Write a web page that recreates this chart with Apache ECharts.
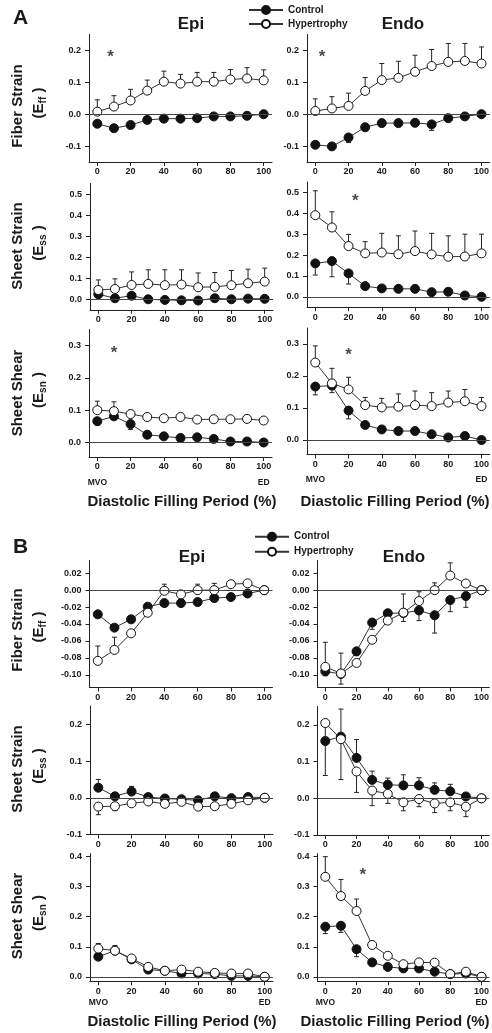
<!DOCTYPE html>
<html><head><meta charset="utf-8">
<script src="https://cdn.jsdelivr.net/npm/echarts@6/dist/echarts.min.js"></script>
<style>html,body{margin:0;padding:0;background:#fff}#c{width:492px;height:1033px}</style>
</head><body><div id="c"></div>
<script>
// ---------- DATA ----------
const xValues = [0,10,20,30,40,50,60,70,80,90,100];
const xTickValues = [0,20,40,60,80,100];
const seriesNames = ['Control','Hypertrophy'];

// Panel A - Fiber strain (Eff)
const aEpiFfCtrl = [-0.030,-0.044,-0.034,-0.018,-0.014,-0.014,-0.0125,-0.007,-0.007,-0.005,0.0];
const aEpiFfCtrlErr = [0,0,0,0,0,0,0,0,0,0,0];
const aEpiFfHyp = [0.008,0.024,0.043,0.074,0.102,0.096,0.102,0.102,0.109,0.112,0.106];
const aEpiFfHypErr = [0.037,0.034,0.035,0.033,0.033,0.029,0.029,0.029,0.031,0.034,0.033];
const aEndoFfCtrl = [-0.096,-0.101,-0.073,-0.041,-0.028,-0.028,-0.027,-0.032,-0.0125,-0.007,0.0];
const aEndoFfCtrlErr = [0,0,0.016,0,0,0,0,0.019,0,0,0];
const aEndoFfHyp = [0.010,0.018,0.026,0.073,0.107,0.114,0.133,0.151,0.164,0.167,0.159];
const aEndoFfHypErr = [0.038,0.037,0.040,0.042,0.052,0.052,0.052,0.052,0.058,0.055,0.052];
// Panel A - Sheet strain (Ess)
const aEpiSsCtrl = [0.024,0.005,0.017,0.0,-0.003,-0.005,-0.006,0.005,0.0,0.003,0.002];
const aEpiSsCtrlErr = [0,0,0,0,0,0,0,0,0,0,0];
const aEpiSsHyp = [0.044,0.049,0.068,0.073,0.067,0.070,0.057,0.059,0.067,0.076,0.084];
const aEpiSsHypErr = [0.048,0.048,0.062,0.067,0.073,0.070,0.068,0.068,0.070,0.067,0.064];
const aEndoSsCtrl = [0.160,0.171,0.112,0.051,0.040,0.038,0.038,0.022,0.024,0.006,0.0];
const aEndoSsCtrlErr = [0.056,0.075,0.051,0,0,0.014,0,0,0,0,0];
const aEndoSsHyp = [0.391,0.332,0.243,0.208,0.212,0.204,0.219,0.203,0.192,0.193,0.208];
const aEndoSsHypErr = [0.117,0.075,0.056,0.056,0.092,0.088,0.096,0.101,0.100,0.107,0.092];
// Panel A - Sheet shear (Esn)
const aEpiSnCtrl = [0.066,0.081,0.057,0.024,0.019,0.014,0.016,0.011,0.003,0.003,0.0];
const aEpiSnCtrlErr = [0.012,0,0.017,0,0,0,0,0,0,0,0];
const aEpiSnHyp = [0.100,0.097,0.088,0.079,0.075,0.079,0.071,0.072,0.072,0.073,0.068];
const aEpiSnHypErr = [0.028,0.029,0.012,0,0,0,0,0,0,0,0];
const aEndoSnCtrl = [0.167,0.170,0.092,0.047,0.033,0.028,0.028,0.018,0.008,0.0125,0.0];
const aEndoSnCtrlErr = [0.026,0.022,0.026,0,0,0,0,0,0,0,0];
const aEndoSnHyp = [0.242,0.177,0.158,0.109,0.102,0.104,0.109,0.106,0.117,0.121,0.106];
const aEndoSnHypErr = [0.052,0.047,0.038,0.024,0.028,0.040,0.044,0.042,0.036,0.037,0.027];

// Panel B - Fiber strain (Eff)
const bEpiFfCtrl = [-0.0286,-0.0443,-0.0345,-0.0196,-0.0153,-0.0153,-0.0141,-0.0094,-0.0082,-0.004,0.0];
const bEpiFfCtrlErr = [0,0,0,0,0,0,0,0,0,0,0];
const bEpiFfHyp = [-0.0835,-0.0706,-0.051,-0.0267,-0.0008,-0.005,0.0,0.0,0.007,0.008,0.0];
const bEpiFfHypErr = [0.0175,0.015,0,0,0.0078,0,0.007,0.008,0,0,0];
const bEndoFfCtrl = [-0.096,-0.099,-0.0723,-0.0383,-0.0273,-0.027,-0.024,-0.0297,-0.0117,-0.007,0.0];
const bEndoFfCtrlErr = [0.005,0.012,0.005,0.008,0,0.010,0.012,0.021,0.0137,0.0133,0];
const bEndoFfHyp = [-0.0906,-0.0984,-0.086,-0.0586,-0.036,-0.0266,-0.0129,0.0,0.0172,0.0078,0.0];
const bEndoFfHypErr = [0.029,0.024,0,0,0,0.022,0.011,0.0086,0.015,0,0];
// Panel B - Sheet strain (Ess)
const bEpiSsCtrl = [0.0275,0.004,0.017,0.002,-0.002,-0.004,-0.007,0.004,-0.001,0.002,0.0];
const bEpiSsCtrlErr = [0.0225,0,0.014,0,0,0,0,0,0,0,0];
const bEpiSsHyp = [-0.024,-0.023,-0.015,-0.010,-0.0165,-0.011,-0.024,-0.023,-0.0165,-0.007,0.0];
const bEpiSsHypErr = [0.022,0.012,0,0,0,0,0,0,0,0,0];
const bEndoSsCtrl = [0.156,0.168,0.110,0.050,0.037,0.035,0.035,0.023,0.019,0.005,0.0];
const bEndoSsCtrlErr = [0,0.075,0.050,0.024,0.018,0.029,0.021,0.019,0.019,0,0];
const bEndoSsHyp = [0.205,0.161,0.073,0.021,0.012,-0.011,-0.002,-0.014,-0.011,-0.023,0.0];
const bEndoSsHypErr = [0.143,0.110,0.057,0.041,0.026,0.023,0.021,0.025,0.023,0.027,0];
// Panel B - Sheet shear (Esn)
const bEpiSnCtrl = [0.067,0.087,0.058,0.024,0.020,0.011,0.011,0.009,0.003,0.003,0.0];
const bEpiSnCtrlErr = [0,0,0,0,0,0,0,0,0,0,0];
const bEpiSnHyp = [0.094,0.087,0.061,0.033,0.020,0.024,0.017,0.013,0.011,0.011,0.0];
const bEpiSnHypErr = [0.017,0.017,0,0,0,0,0,0,0,0,0];
const bEndoSnCtrl = [0.167,0.170,0.092,0.048,0.033,0.028,0.028,0.017,0.009,0.011,0.0];
const bEndoSnCtrlErr = [0.023,0.022,0.025,0,0,0,0,0,0,0,0];
const bEndoSnHyp = [0.333,0.269,0.219,0.106,0.070,0.042,0.048,0.047,0.009,0.017,0.0];
const bEndoSnHypErr = [0.067,0.055,0.040,0,0,0,0,0,0,0,0];

// significance markers [x, y]
const aEpiFfStar = [[8, 0.19]];
const aEndoFfStar = [[4, 0.19]];
const aEndoSsStar = [[24, 0.476]];
const aEpiSnStar = [[10, 0.29]];
const aEndoSnStar = [[20, 0.276]];
const bEndoSnStar = [[24, 0.353]];

// tick label values
const ticksAFf = [-0.1, 0, 0.1, 0.2];
const ticksASs = [0, 0.1, 0.2, 0.3, 0.4, 0.5];
const ticksASn = [0, 0.1, 0.2, 0.3];
const ticksBFf = [-0.10, -0.08, -0.06, -0.04, -0.02, 0, 0.02];
const ticksBSs = [-0.1, 0, 0.1, 0.2];
const ticksBSn = [0, 0.1, 0.2, 0.3, 0.4];

// ---------- LAYOUT ----------
const FONT = '"Liberation Sans", Arial, Helvetica, sans-serif';
const INK = '#1a1a1a';
const plots = [
  {grid:{left:89,top:34.5,width:183,height:127.5}, y:[-0.15,0.25], ticks:ticksAFf, dec:1, c:aEpiFfCtrl, ce:aEpiFfCtrlErr, h:aEpiFfHyp, he:aEpiFfHypErr, cd:-1, hd:1, star:aEpiFfStar},
  {grid:{left:307,top:34.5,width:183,height:127.5}, y:[-0.15,0.25], ticks:ticksAFf, dec:1, c:aEndoFfCtrl, ce:aEndoFfCtrlErr, h:aEndoFfHyp, he:aEndoFfHypErr, cd:-1, hd:1, star:aEndoFfStar},
  {grid:{left:90,top:183.5,width:183,height:126.3}, y:[-0.05,0.55], ticks:ticksASs, dec:1, c:aEpiSsCtrl, ce:aEpiSsCtrlErr, h:aEpiSsHyp, he:aEpiSsHypErr, cd:-1, hd:1},
  {grid:{left:307,top:182,width:183,height:125.2}, y:[-0.05,0.55], ticks:ticksASs, dec:1, c:aEndoSsCtrl, ce:aEndoSsCtrlErr, h:aEndoSsHyp, he:aEndoSsHypErr, cd:-1, hd:1, star:aEndoSsStar},
  {grid:{left:89,top:329.5,width:183,height:127.5}, y:[-0.045,0.35], ticks:ticksASn, dec:1, c:aEpiSnCtrl, ce:aEpiSnCtrlErr, h:aEpiSnHyp, he:aEpiSnHypErr, cd:-1, hd:1, star:aEpiSnStar, bottom:19},
  {grid:{left:307,top:328,width:183,height:126.4}, y:[-0.045,0.35], ticks:ticksASn, dec:1, c:aEndoSnCtrl, ce:aEndoSnCtrlErr, h:aEndoSnHyp, he:aEndoSnHypErr, cd:-1, hd:1, star:aEndoSnStar, bottom:19},
  {grid:{left:89.5,top:560.5,width:183,height:127}, y:[-0.115,0.035], ticks:ticksBFf, dec:2, c:bEpiFfCtrl, ce:bEpiFfCtrlErr, h:bEpiFfHyp, he:bEpiFfHypErr, cd:-1, hd:1},
  {grid:{left:317.5,top:560.5,width:181.5,height:127}, y:[-0.115,0.035], ticks:ticksBFf, dec:2, c:bEndoFfCtrl, ce:bEndoFfCtrlErr, h:bEndoFfHyp, he:bEndoFfHypErr, cd:-1, hd:1},
  {grid:{left:90,top:706,width:183,height:128.5}, y:[-0.1,0.25], ticks:ticksBSs, dec:1, c:bEpiSsCtrl, ce:bEpiSsCtrlErr, h:bEpiSsHyp, he:bEpiSsHypErr, cd:1, hd:-1},
  {grid:{left:317.5,top:706.5,width:181.5,height:128.5}, y:[-0.1,0.25], ticks:ticksBSs, dec:1, c:bEndoSsCtrl, ce:bEndoSsCtrlErr, h:bEndoSsHyp, he:bEndoSsHypErr, cd:1, hd:-1},
  {grid:{left:90,top:853.7,width:183,height:127.6}, y:[-0.015,0.41], ticks:ticksBSn, dec:1, c:bEpiSnCtrl, ce:bEpiSnCtrlErr, h:bEpiSnHyp, he:bEpiSnHypErr, cd:-1, hd:1, bottom:11.6},
  {grid:{left:317.5,top:853.7,width:181.5,height:127.6}, y:[-0.015,0.41], ticks:ticksBSn, dec:1, c:bEndoSnCtrl, ce:bEndoSnCtrlErr, h:bEndoSnHyp, he:bEndoSnHypErr, cd:-1, hd:1, star:bEndoSnStar, bottom:11.6}
];

function errRender(params, api) {
  const x = api.value(0), y = api.value(1), e = api.value(2);
  if (!e) return;
  const p0 = api.coord([x, y]);
  const p1 = api.coord([x, y + e]);
  const w = 2.5;
  return {type:'group', children:[
    {type:'line', shape:{x1:p0[0], y1:p0[1], x2:p1[0], y2:p1[1]}, style:{stroke:'#222', lineWidth:1}},
    {type:'line', shape:{x1:p1[0]-w, y1:p1[1], x2:p1[0]+w, y2:p1[1]}, style:{stroke:'#222', lineWidth:1}}
  ]};
}

const grids = [], xAxes = [], yAxes = [], series = [];
plots.forEach((p, i) => {
  grids.push(Object.assign({containLabel:false}, p.grid));
  const rich = {
    n:{fontSize:9, fontWeight:'bold', fontFamily:FONT, color:INK, lineHeight:12},
    m:{fontSize:8.5, fontWeight:'bold', fontFamily:FONT, color:INK, lineHeight:p.bottom || 12}
  };
  xAxes.push({
    gridIndex:i, type:'value', min:-5, max:105,
    axisLine:{show:true, onZero:false, lineStyle:{color:'#222', width:1}},
    axisTick:{show:true, length:4, customValues:xTickValues, lineStyle:{color:'#222', width:1}},
    axisLabel:{customValues:xTickValues, margin:4, rich,
      formatter: v => {
        if (p.bottom && v === 0) return '{n|0}\n{m|MVO}';
        if (p.bottom && v === 100) return '{n|100}\n{m|ED}';
        return '{n|' + v + '}';
      }},
    splitLine:{show:false}
  });
  yAxes.push({
    gridIndex:i, type:'value', min:p.y[0], max:p.y[1],
    axisLine:{show:true, onZero:false, lineStyle:{color:'#222', width:1}},
    axisTick:{show:true, length:4, customValues:p.ticks, lineStyle:{color:'#222', width:1}},
    axisLabel:{customValues:p.ticks, margin:8, fontSize:9, fontWeight:'bold', fontFamily:FONT, color:INK,
      formatter: v => (Math.abs(v) < 1e-9 ? 0 : v).toFixed(p.dec)},
    splitLine:{show:false}
  });
  series.push({
    type:'custom', xAxisIndex:i, yAxisIndex:i, renderItem:errRender, z:2, silent:true,
    data: xValues.map((x, k) => [x, p.c[k], p.cd * p.ce[k]]),
    markLine:{silent:true, symbol:'none', label:{show:false}, animation:false,
      lineStyle:{color:'#444', width:1, type:'solid'}, data:[{yAxis:0}]}
  });
  series.push({
    type:'custom', xAxisIndex:i, yAxisIndex:i, renderItem:errRender, z:2, silent:true,
    data: xValues.map((x, k) => [x, p.h[k], p.hd * p.he[k]])
  });
  series.push({
    type:'line', name:seriesNames[0], xAxisIndex:i, yAxisIndex:i, z:3, silent:true,
    data: xValues.map((x, k) => [x, p.c[k]]),
    symbol:'circle', symbolSize:9, showAllSymbol:true,
    lineStyle:{color:'#333', width:1},
    itemStyle:{color:'#111', borderColor:'#111', borderWidth:1}
  });
  series.push({
    type:'line', name:seriesNames[1], xAxisIndex:i, yAxisIndex:i, z:4, silent:true,
    data: xValues.map((x, k) => [x, p.h[k]]),
    symbol:'circle', symbolSize:9, showAllSymbol:true,
    lineStyle:{color:'#333', width:1},
    itemStyle:{color:'#fff', borderColor:'#111', borderWidth:1}
  });
  if (p.star) {
    series.push({
      type:'scatter', xAxisIndex:i, yAxisIndex:i, z:5, silent:true,
      data:p.star, symbolSize:1, itemStyle:{color:'rgba(0,0,0,0)'},
      label:{show:true, position:'inside', formatter:'*', fontSize:17, fontWeight:'bold', fontFamily:FONT, color:INK, offset:[0,4]}
    });
  }
});

function txt(x, y, text, size, extra) {
  return Object.assign({type:'text', x, y, silent:true,
    style:{text, fontSize:size, fontWeight:'bold', fontFamily:FONT, fill:INK, align:'center', verticalAlign:'middle'}}, extra || {});
}
function yName(cy, l1, sub) {
  return [
    txt(17.5, cy, l1, 15, {rotation:Math.PI/2}),
    {type:'text', x:39, y:cy - 3, rotation:Math.PI/2, silent:true,
      style:{text:'(E{s|' + sub + '} )', fontSize:15, fontWeight:'bold', fontFamily:FONT, fill:INK,
        align:'center', verticalAlign:'middle', lineHeight:18,
        rich:{s:{fontSize:10, fontWeight:'bold', fontFamily:FONT, fill:INK, verticalAlign:'bottom', lineHeight:14}}}}
  ];
}
const graphics = [
  txt(20.5, 18.5, 'A', 21), txt(20.5, 547.5, 'B', 21),
  txt(191, 24, 'Epi', 17), txt(403, 24, 'Endo', 17),
  txt(192, 557, 'Epi', 17), txt(404, 557, 'Endo', 17),
  ...yName(106, 'Fiber Strain', 'ff'), ...yName(246, 'Sheet Strain', 'ss'), ...yName(393, 'Sheet Shear', 'sn'),
  ...yName(630, 'Fiber Strain', 'ff'), ...yName(769, 'Sheet Strain', 'ss'), ...yName(916, 'Sheet Shear', 'sn'),
  txt(182, 502, 'Diastolic Filling Period (%)', 15), txt(395, 502, 'Diastolic Filling Period (%)', 15),
  txt(182, 1022, 'Diastolic Filling Period (%)', 15), txt(395, 1022, 'Diastolic Filling Period (%)', 15)
];

const legendCommon = {data:seriesNames, orient:'vertical', itemWidth:34, itemHeight:10, selectedMode:false, padding:0,
  textStyle:{fontSize:10, fontWeight:'bold', fontFamily:FONT, color:INK}};

const chart = echarts.init(document.getElementById('c'), null, {renderer:'canvas'});
chart.setOption({
  animation:false,
  backgroundColor:'#fff',
  grid:grids, xAxis:xAxes, yAxis:yAxes, series,
  legend:[Object.assign({left:248, top:5, itemGap:4}, legendCommon), Object.assign({left:254, top:531.7, itemGap:5}, legendCommon)],
  graphic:graphics
});
</script></body></html>
